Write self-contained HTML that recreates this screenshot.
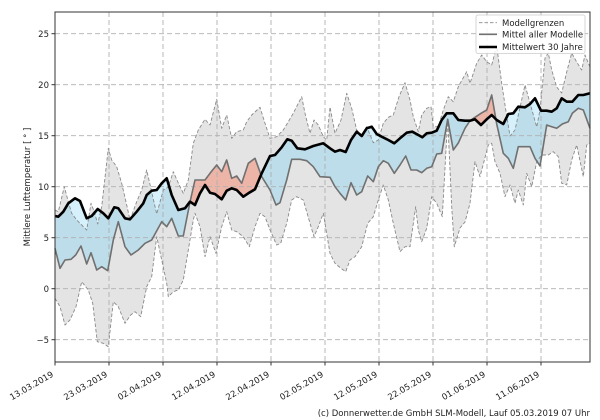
<!DOCTYPE html>
<html><head><meta charset="utf-8"><style>
html,body{margin:0;padding:0;background:#fff;}
svg{display:block;font-family:"DejaVu Sans","Liberation Sans",sans-serif;}
</style></head><body>
<svg width="600" height="420" viewBox="0 0 600 420" xmlns="http://www.w3.org/2000/svg">
<defs>
<clipPath id="aboveBlack"><polygon points="55,216 58.3,216.7 63.3,211.7 68.3,203.3 75,198.3 80,201 86.7,218.3 91.7,216 97.7,209 103.3,213.3 108.3,218.3 114.3,207.3 118.3,208.3 125,218.3 130,219.3 136.7,211.7 143.3,203.3 146.7,195 151.7,190.7 156.7,190 161.7,183.3 166.7,178.3 171.7,195 178.3,210 185,208.3 190,201.7 195,205 200,193.3 205,185 210,192.7 215,194 221.7,199.3 226.7,190.7 231.7,188.3 236.7,190 243.3,196.7 248.3,193.3 255,189.3 261.7,173.3 270,156 275,155 281.7,147.3 287.3,139.3 291.7,140.7 297.3,148.3 305,149.3 313.3,146 323.3,143.3 330,148.3 335,151.7 340,150 345.7,152 351,140 356.7,131.7 361.7,136 366.7,128.3 371.7,126.7 376.7,134 381.7,136.7 388.3,140 394.3,143.3 400,138.3 406.7,132.7 412.3,131.7 418.3,135 422.3,137.3 426.7,133.3 431.7,132.7 436.7,130.7 441.7,120 446.7,113.3 453.3,113.3 458.3,120 465,120.7 470,120.7 475,119.3 481,125 486.7,119.3 491.7,115 496.7,120 503.3,124 508.3,114 513.3,113.3 518.3,106.7 525,107.3 530,104 535,98.3 541,110.7 546.7,110.7 551.7,111.7 556.7,108.3 561.7,98.3 566.7,101.7 572.3,101.7 578.3,95 583.3,95 590,93.3 590,12 55,12"/></clipPath>
<clipPath id="belowBlack"><polygon points="55,216 58.3,216.7 63.3,211.7 68.3,203.3 75,198.3 80,201 86.7,218.3 91.7,216 97.7,209 103.3,213.3 108.3,218.3 114.3,207.3 118.3,208.3 125,218.3 130,219.3 136.7,211.7 143.3,203.3 146.7,195 151.7,190.7 156.7,190 161.7,183.3 166.7,178.3 171.7,195 178.3,210 185,208.3 190,201.7 195,205 200,193.3 205,185 210,192.7 215,194 221.7,199.3 226.7,190.7 231.7,188.3 236.7,190 243.3,196.7 248.3,193.3 255,189.3 261.7,173.3 270,156 275,155 281.7,147.3 287.3,139.3 291.7,140.7 297.3,148.3 305,149.3 313.3,146 323.3,143.3 330,148.3 335,151.7 340,150 345.7,152 351,140 356.7,131.7 361.7,136 366.7,128.3 371.7,126.7 376.7,134 381.7,136.7 388.3,140 394.3,143.3 400,138.3 406.7,132.7 412.3,131.7 418.3,135 422.3,137.3 426.7,133.3 431.7,132.7 436.7,130.7 441.7,120 446.7,113.3 453.3,113.3 458.3,120 465,120.7 470,120.7 475,119.3 481,125 486.7,119.3 491.7,115 496.7,120 503.3,124 508.3,114 513.3,113.3 518.3,106.7 525,107.3 530,104 535,98.3 541,110.7 546.7,110.7 551.7,111.7 556.7,108.3 561.7,98.3 566.7,101.7 572.3,101.7 578.3,95 583.3,95 590,93.3 590,362 55,362"/></clipPath>
<clipPath id="aboveLower"><polygon points="55,298.3 60,306.7 65,325 70,320 76,306.7 81.7,281.7 88.3,290 92.7,303.3 97.3,341.7 103.3,343.3 108.3,346.7 113.3,301.7 118.3,306.7 125,323.3 130.7,315 135,311.7 140.7,316.7 146.7,286.7 151.7,276.7 156.7,236.7 161.7,260 166.7,283.3 168.3,296.7 173.3,291.7 178.3,290 183.3,280 188.3,250 193.3,220 195,213.3 200,226.7 205,256.7 210,236.7 216,253.3 221.7,226.7 226.7,211.7 231.7,230 236.7,231.7 243.3,236.7 249.3,246.7 255,226.7 260,213.3 265,216.7 270,230 276.7,245 280.7,243.3 286.7,223.3 291.7,200 296.7,196.7 303.3,200 310,223.3 314,236.7 318.3,226.7 323.3,213.3 330,253.3 335,263.3 341,268.3 345.7,271.7 350,260 355,256.7 361.7,246.7 367.7,223.3 373.3,216.7 378.3,200 383.3,185 388.3,200 393.3,223.3 400,251.7 405,246.7 410,246.7 415.7,206.7 418.3,230 421.7,241.7 426.7,228.3 431.7,196.7 436.7,203.3 442.3,216.7 447.7,119.3 451.7,206.7 454.3,246.7 460,228 465,222 470,203.3 475,161.7 480,176.7 488.3,145 491.7,143.3 495,161.7 500,173.3 505,196.7 510,185 515,203.3 518.3,190 523.3,205 526.7,173.3 531.7,186.7 536.7,161.7 541.7,155 548.3,155 553.3,151.7 558.3,156.7 561.7,183.3 566.7,185 571.7,160 576.7,145 583.3,176.7 586.7,145 590,143.3 590,12 55,12"/></clipPath>
</defs>

<polygon clip-path="url(#aboveLower)" fill="#e4e4e4" points="55,210 58.3,211.7 64.3,186.7 68.3,201.7 71.7,213.3 76.7,220 81.7,225 86.7,230 91,203.3 94.3,211.7 97.7,224 101.7,206.7 108.3,148.3 111.7,160 116.7,166.7 121.7,183.3 126.7,205 130,220 136.7,201.7 141.7,190 146.7,170 151.7,192 156.7,214 163.3,190 168.3,187 173.3,171.7 178.3,183 183.3,193.3 188.3,180 193.3,143.3 198.3,130 205,119.3 210,125 216.7,99.3 221.7,128.3 226.7,115 231.7,138.3 236.7,131.7 243.3,130 246.7,121.7 251.7,115 260,107.3 265,123.3 270,138.3 276.7,136.7 283.3,130 288.3,121.7 293.3,113.3 298.3,103.3 301.7,96.7 305,113.3 310,133.3 314,120 318.3,125 323.3,136.7 326.7,140 330,107 335,133.3 341,120 346.7,93.3 351.7,108.3 356.7,130 361.7,135 366.7,126.7 373.3,142.7 378.3,140 383.3,123.3 388.3,117.3 393.3,115 399,96.7 405,82.7 410,100 413.3,116.7 418.3,131.7 421.7,115 426.7,108.3 431,106.7 433.3,126.7 438.3,126.7 443.3,110 448.3,96.7 453.3,101.7 458.3,86.7 462,80 466.7,71.7 470,83.3 476.7,63.3 481.7,55 486.7,61.7 491.7,65 496.7,46 501.7,83.3 505,105 510,136 515,130 518.3,115 525,85 530,103 536.7,127 540,110 545,58 548.3,53 551.7,70 556.7,87 561.7,93 566.7,72 571.7,53 576.7,62 581.7,70 585,55 590,67 590,362 55,362"/>

<polygon clip-path="url(#belowBlack)" fill="#bcdde9" points="55,248.3 60,268.3 65,260 71,259.3 75.7,255 81,246 86.7,264 91,252.7 96.7,270 101.7,266.7 107.7,270.7 113.3,240 118.3,221.7 125,246.7 131,255 138.3,250 145,243.3 151.7,240 161.7,221.7 166.7,226.7 171.7,218.3 178.3,236 183.3,236 190,202 195,180 205,180 210,173.3 216.7,165 221.7,171.7 226.7,160 231.7,178.3 236.7,176 241.7,183.3 248.3,163.3 255,158.3 261.7,176.7 270,190 276,205 280,202.7 286.7,180 291.7,159.3 300,159.3 306.7,160.7 313.3,166.7 320,176.7 330,177.3 335,186.7 340,193.3 345.7,200 351,182.7 356.7,195 361.7,191.7 367.7,176 373.3,181.7 378.3,166.7 383.3,160.7 388.3,163.3 394.3,173.3 400,165 405.7,156 411,170 416.7,170 421.7,172.7 426.7,168.3 431.7,166.7 436.7,154 441.7,153.3 447.7,119.3 453.3,150 458.3,143 465,128.3 470,120.7 475,117.3 481,113.3 486.7,110 491.7,95 496.7,124 503.3,153.3 508.3,158.3 513.3,168.3 518.3,146.7 525,146.7 530,146.7 535,158.3 540,166 546.7,125 551.7,126.7 556.7,128.3 562.3,124 568.3,121.7 572.3,113.3 578.3,108.3 583.3,110 590,128.3 590,12 55,12"/>

<polygon clip-path="url(#aboveBlack)" fill="#ecb5a8" points="55,248.3 60,268.3 65,260 71,259.3 75.7,255 81,246 86.7,264 91,252.7 96.7,270 101.7,266.7 107.7,270.7 113.3,240 118.3,221.7 125,246.7 131,255 138.3,250 145,243.3 151.7,240 161.7,221.7 166.7,226.7 171.7,218.3 178.3,236 183.3,236 190,202 195,180 205,180 210,173.3 216.7,165 221.7,171.7 226.7,160 231.7,178.3 236.7,176 241.7,183.3 248.3,163.3 255,158.3 261.7,176.7 270,190 276,205 280,202.7 286.7,180 291.7,159.3 300,159.3 306.7,160.7 313.3,166.7 320,176.7 330,177.3 335,186.7 340,193.3 345.7,200 351,182.7 356.7,195 361.7,191.7 367.7,176 373.3,181.7 378.3,166.7 383.3,160.7 388.3,163.3 394.3,173.3 400,165 405.7,156 411,170 416.7,170 421.7,172.7 426.7,168.3 431.7,166.7 436.7,154 441.7,153.3 447.7,119.3 453.3,150 458.3,143 465,128.3 470,120.7 475,117.3 481,113.3 486.7,110 491.7,95 496.7,124 503.3,153.3 508.3,158.3 513.3,168.3 518.3,146.7 525,146.7 530,146.7 535,158.3 540,166 546.7,125 551.7,126.7 556.7,128.3 562.3,124 568.3,121.7 572.3,113.3 578.3,108.3 583.3,110 590,128.3 590,362 55,362"/>

<polygon clip-path="url(#belowBlack)" fill="#d6f1fb" points="55,210 58.3,211.7 64.3,186.7 68.3,201.7 71.7,213.3 76.7,220 81.7,225 86.7,230 91,203.3 94.3,211.7 97.7,224 101.7,206.7 108.3,148.3 111.7,160 116.7,166.7 121.7,183.3 126.7,205 130,220 136.7,201.7 141.7,190 146.7,170 151.7,192 156.7,214 163.3,190 168.3,187 173.3,171.7 178.3,183 183.3,193.3 188.3,180 193.3,143.3 198.3,130 205,119.3 210,125 216.7,99.3 221.7,128.3 226.7,115 231.7,138.3 236.7,131.7 243.3,130 246.7,121.7 251.7,115 260,107.3 265,123.3 270,138.3 276.7,136.7 283.3,130 288.3,121.7 293.3,113.3 298.3,103.3 301.7,96.7 305,113.3 310,133.3 314,120 318.3,125 323.3,136.7 326.7,140 330,107 335,133.3 341,120 346.7,93.3 351.7,108.3 356.7,130 361.7,135 366.7,126.7 373.3,142.7 378.3,140 383.3,123.3 388.3,117.3 393.3,115 399,96.7 405,82.7 410,100 413.3,116.7 418.3,131.7 421.7,115 426.7,108.3 431,106.7 433.3,126.7 438.3,126.7 443.3,110 448.3,96.7 453.3,101.7 458.3,86.7 462,80 466.7,71.7 470,83.3 476.7,63.3 481.7,55 486.7,61.7 491.7,65 496.7,46 501.7,83.3 505,105 510,136 515,130 518.3,115 525,85 530,103 536.7,127 540,110 545,58 548.3,53 551.7,70 556.7,87 561.7,93 566.7,72 571.7,53 576.7,62 581.7,70 585,55 590,67 590,12 55,12"/>

<g stroke="#b0b0b0" stroke-width="0.9" stroke-dasharray="5,3" fill="none">
<line x1="55" y1="12" x2="55" y2="362"/>
<line x1="109" y1="12" x2="109" y2="362"/>
<line x1="163" y1="12" x2="163" y2="362"/>
<line x1="217" y1="12" x2="217" y2="362"/>
<line x1="271" y1="12" x2="271" y2="362"/>
<line x1="325" y1="12" x2="325" y2="362"/>
<line x1="379" y1="12" x2="379" y2="362"/>
<line x1="433" y1="12" x2="433" y2="362"/>
<line x1="487" y1="12" x2="487" y2="362"/>
<line x1="541" y1="12" x2="541" y2="362"/>
<line x1="55" y1="33.7" x2="590" y2="33.7"/>
<line x1="55" y1="84.7" x2="590" y2="84.7"/>
<line x1="55" y1="135.7" x2="590" y2="135.7"/>
<line x1="55" y1="186.7" x2="590" y2="186.7"/>
<line x1="55" y1="237.7" x2="590" y2="237.7"/>
<line x1="55" y1="288.7" x2="590" y2="288.7"/>
<line x1="55" y1="339.7" x2="590" y2="339.7"/>
</g>

<g fill="none" stroke="#8a8a8a" stroke-width="0.9" stroke-dasharray="3.5,2" stroke-linejoin="round">
<polyline points="55,210 58.3,211.7 64.3,186.7 68.3,201.7 71.7,213.3 76.7,220 81.7,225 86.7,230 91,203.3 94.3,211.7 97.7,224 101.7,206.7 108.3,148.3 111.7,160 116.7,166.7 121.7,183.3 126.7,205 130,220 136.7,201.7 141.7,190 146.7,170 151.7,192 156.7,214 163.3,190 168.3,187 173.3,171.7 178.3,183 183.3,193.3 188.3,180 193.3,143.3 198.3,130 205,119.3 210,125 216.7,99.3 221.7,128.3 226.7,115 231.7,138.3 236.7,131.7 243.3,130 246.7,121.7 251.7,115 260,107.3 265,123.3 270,138.3 276.7,136.7 283.3,130 288.3,121.7 293.3,113.3 298.3,103.3 301.7,96.7 305,113.3 310,133.3 314,120 318.3,125 323.3,136.7 326.7,140 330,107 335,133.3 341,120 346.7,93.3 351.7,108.3 356.7,130 361.7,135 366.7,126.7 373.3,142.7 378.3,140 383.3,123.3 388.3,117.3 393.3,115 399,96.7 405,82.7 410,100 413.3,116.7 418.3,131.7 421.7,115 426.7,108.3 431,106.7 433.3,126.7 438.3,126.7 443.3,110 448.3,96.7 453.3,101.7 458.3,86.7 462,80 466.7,71.7 470,83.3 476.7,63.3 481.7,55 486.7,61.7 491.7,65 496.7,46 501.7,83.3 505,105 510,136 515,130 518.3,115 525,85 530,103 536.7,127 540,110 545,58 548.3,53 551.7,70 556.7,87 561.7,93 566.7,72 571.7,53 576.7,62 581.7,70 585,55 590,67"/>
<polyline points="55,298.3 60,306.7 65,325 70,320 76,306.7 81.7,281.7 88.3,290 92.7,303.3 97.3,341.7 103.3,343.3 108.3,346.7 113.3,301.7 118.3,306.7 125,323.3 130.7,315 135,311.7 140.7,316.7 146.7,286.7 151.7,276.7 156.7,236.7 161.7,260 166.7,283.3 168.3,296.7 173.3,291.7 178.3,290 183.3,280 188.3,250 193.3,220 195,213.3 200,226.7 205,256.7 210,236.7 216,253.3 221.7,226.7 226.7,211.7 231.7,230 236.7,231.7 243.3,236.7 249.3,246.7 255,226.7 260,213.3 265,216.7 270,230 276.7,245 280.7,243.3 286.7,223.3 291.7,200 296.7,196.7 303.3,200 310,223.3 314,236.7 318.3,226.7 323.3,213.3 330,253.3 335,263.3 341,268.3 345.7,271.7 350,260 355,256.7 361.7,246.7 367.7,223.3 373.3,216.7 378.3,200 383.3,185 388.3,200 393.3,223.3 400,251.7 405,246.7 410,246.7 415.7,206.7 418.3,230 421.7,241.7 426.7,228.3 431.7,196.7 436.7,203.3 442.3,216.7 447.7,119.3 451.7,206.7 454.3,246.7 460,228 465,222 470,203.3 475,161.7 480,176.7 488.3,145 491.7,143.3 495,161.7 500,173.3 505,196.7 510,185 515,203.3 518.3,190 523.3,205 526.7,173.3 531.7,186.7 536.7,161.7 541.7,155 548.3,155 553.3,151.7 558.3,156.7 561.7,183.3 566.7,185 571.7,160 576.7,145 583.3,176.7 586.7,145 590,143.3"/>
</g>

<polyline fill="none" stroke="#707070" stroke-width="1.6" stroke-linejoin="round" points="55,248.3 60,268.3 65,260 71,259.3 75.7,255 81,246 86.7,264 91,252.7 96.7,270 101.7,266.7 107.7,270.7 113.3,240 118.3,221.7 125,246.7 131,255 138.3,250 145,243.3 151.7,240 161.7,221.7 166.7,226.7 171.7,218.3 178.3,236 183.3,236 190,202 195,180 205,180 210,173.3 216.7,165 221.7,171.7 226.7,160 231.7,178.3 236.7,176 241.7,183.3 248.3,163.3 255,158.3 261.7,176.7 270,190 276,205 280,202.7 286.7,180 291.7,159.3 300,159.3 306.7,160.7 313.3,166.7 320,176.7 330,177.3 335,186.7 340,193.3 345.7,200 351,182.7 356.7,195 361.7,191.7 367.7,176 373.3,181.7 378.3,166.7 383.3,160.7 388.3,163.3 394.3,173.3 400,165 405.7,156 411,170 416.7,170 421.7,172.7 426.7,168.3 431.7,166.7 436.7,154 441.7,153.3 447.7,119.3 453.3,150 458.3,143 465,128.3 470,120.7 475,117.3 481,113.3 486.7,110 491.7,95 496.7,124 503.3,153.3 508.3,158.3 513.3,168.3 518.3,146.7 525,146.7 530,146.7 535,158.3 540,166 546.7,125 551.7,126.7 556.7,128.3 562.3,124 568.3,121.7 572.3,113.3 578.3,108.3 583.3,110 590,128.3"/>

<polyline fill="none" stroke="#000" stroke-width="2.6" stroke-linejoin="round" points="55,216 58.3,216.7 63.3,211.7 68.3,203.3 75,198.3 80,201 86.7,218.3 91.7,216 97.7,209 103.3,213.3 108.3,218.3 114.3,207.3 118.3,208.3 125,218.3 130,219.3 136.7,211.7 143.3,203.3 146.7,195 151.7,190.7 156.7,190 161.7,183.3 166.7,178.3 171.7,195 178.3,210 185,208.3 190,201.7 195,205 200,193.3 205,185 210,192.7 215,194 221.7,199.3 226.7,190.7 231.7,188.3 236.7,190 243.3,196.7 248.3,193.3 255,189.3 261.7,173.3 270,156 275,155 281.7,147.3 287.3,139.3 291.7,140.7 297.3,148.3 305,149.3 313.3,146 323.3,143.3 330,148.3 335,151.7 340,150 345.7,152 351,140 356.7,131.7 361.7,136 366.7,128.3 371.7,126.7 376.7,134 381.7,136.7 388.3,140 394.3,143.3 400,138.3 406.7,132.7 412.3,131.7 418.3,135 422.3,137.3 426.7,133.3 431.7,132.7 436.7,130.7 441.7,120 446.7,113.3 453.3,113.3 458.3,120 465,120.7 470,120.7 475,119.3 481,125 486.7,119.3 491.7,115 496.7,120 503.3,124 508.3,114 513.3,113.3 518.3,106.7 525,107.3 530,104 535,98.3 541,110.7 546.7,110.7 551.7,111.7 556.7,108.3 561.7,98.3 566.7,101.7 572.3,101.7 578.3,95 583.3,95 590,93.3"/>

<rect x="55" y="12" width="535" height="350" fill="none" stroke="#333" stroke-width="1"/>

<g stroke="#333" stroke-width="1">
<line x1="51.5" y1="33.7" x2="55" y2="33.7"/>
<line x1="51.5" y1="84.7" x2="55" y2="84.7"/>
<line x1="51.5" y1="135.7" x2="55" y2="135.7"/>
<line x1="51.5" y1="186.7" x2="55" y2="186.7"/>
<line x1="51.5" y1="237.7" x2="55" y2="237.7"/>
<line x1="51.5" y1="288.7" x2="55" y2="288.7"/>
<line x1="51.5" y1="339.7" x2="55" y2="339.7"/>
<line x1="55" y1="362" x2="55" y2="365.5"/>
<line x1="109" y1="362" x2="109" y2="365.5"/>
<line x1="163" y1="362" x2="163" y2="365.5"/>
<line x1="217" y1="362" x2="217" y2="365.5"/>
<line x1="271" y1="362" x2="271" y2="365.5"/>
<line x1="325" y1="362" x2="325" y2="365.5"/>
<line x1="379" y1="362" x2="379" y2="365.5"/>
<line x1="433" y1="362" x2="433" y2="365.5"/>
<line x1="487" y1="362" x2="487" y2="365.5"/>
<line x1="541" y1="362" x2="541" y2="365.5"/>
</g>

<g font-size="8.5" fill="#222" text-anchor="end">
<text x="49" y="36.8">25</text>
<text x="49" y="87.8">20</text>
<text x="49" y="138.8">15</text>
<text x="49" y="189.8">10</text>
<text x="49" y="240.8">5</text>
<text x="49" y="291.8">0</text>
<text x="49" y="342.8">−5</text>
</g>

<text transform="translate(30,187) rotate(-90)" text-anchor="middle" font-size="8.5" fill="#222">Mittlere Lufttemperatur [ ° ]</text>

<g font-size="8.5" fill="#222" text-anchor="end">
<text transform="translate(54,376) rotate(-30)">13.03.2019</text>
<text transform="translate(108,376) rotate(-30)">23.03.2019</text>
<text transform="translate(162,376) rotate(-30)">02.04.2019</text>
<text transform="translate(216,376) rotate(-30)">12.04.2019</text>
<text transform="translate(270,376) rotate(-30)">22.04.2019</text>
<text transform="translate(324,376) rotate(-30)">02.05.2019</text>
<text transform="translate(378,376) rotate(-30)">12.05.2019</text>
<text transform="translate(432,376) rotate(-30)">22.05.2019</text>
<text transform="translate(486,376) rotate(-30)">01.06.2019</text>
<text transform="translate(540,376) rotate(-30)">11.06.2019</text>
</g>

<text x="590" y="416" text-anchor="end" font-size="8.5" fill="#222">(c) Donnerwetter.de GmbH SLM-Modell, Lauf 05.03.2019 07 Uhr</text>

<rect x="476" y="15" width="109" height="38.5" rx="2" ry="2" fill="#fff" fill-opacity="0.85" stroke="#cccccc" stroke-width="0.8"/>
<line x1="479" y1="22.7" x2="497" y2="22.7" stroke="#8a8a8a" stroke-width="0.9" stroke-dasharray="3.5,2"/>
<line x1="479" y1="34.3" x2="497" y2="34.3" stroke="#707070" stroke-width="1.6"/>
<line x1="479" y1="47" x2="497" y2="47" stroke="#000" stroke-width="2.6"/>
<g font-size="8.5" fill="#222">
<text x="502" y="25.8">Modellgrenzen</text>
<text x="502" y="37.5">Mittel aller Modelle</text>
<text x="502" y="50">Mittelwert 30 Jahre</text>
</g>
</svg>
</body></html>
